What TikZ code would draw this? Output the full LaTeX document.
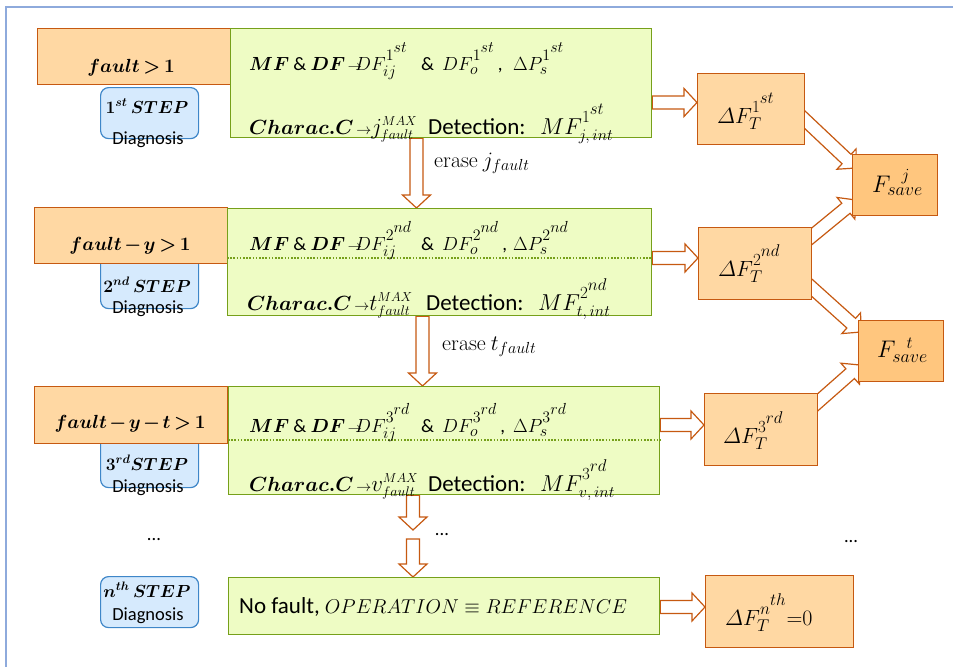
\documentclass[tikz,border=0pt]{standalone}
\usepackage{fix-cm}
\usepackage{amsmath}
\usepackage[no-math]{fontspec}
\setmainfont{Carlito}
\usetikzlibrary{calc}
\pgfdeclarelayer{bg}
\pgfsetlayers{bg,main}
\definecolor{orf}{HTML}{FFD8A3}
\definecolor{ord}{HTML}{C65911}
\definecolor{orsave}{HTML}{FFC67E}
\definecolor{grf}{HTML}{EEFCC4}
\definecolor{grd}{HTML}{76A01A}
\definecolor{blf}{HTML}{D6EAFD}
\definecolor{bld}{HTML}{3E86C8}
\definecolor{framec}{HTML}{8EAADC}
\newcommand\szLineA{\fontsize{19}{23}\selectfont}
\newcommand\szLineB{\fontsize{23}{27}\selectfont}
\newcommand\szStep{\fontsize{17.5}{20}\selectfont}
\newcommand\szDiag{\fontsize{18.5}{22}\selectfont}
\newcommand\szFault{\fontsize{19}{22}\selectfont\medmuskip=2mu\thickmuskip=3mu}
\newcommand\szDF{\fontsize{22}{26}\selectfont}
\newcommand\szSave{\fontsize{24}{28}\selectfont}
\newcommand\szErase{\fontsize{22}{26}\selectfont}
\newcommand\fsz[2]{\text{\fontsize{#1}{#1}\selectfont$\textstyle #2$}}
\newcommand\osup[3]{\raisebox{3pt}{\fontsize{#1}{#1}\selectfont$#2^{\raisebox{2pt}{\fontsize{#1}{#1}\selectfont$#3$}}$}}
\newcommand\sarr[1]{\mathord{\kern2.5pt\fsz{#1}{\rightarrow}}}
\newcommand\blockarr[2]{%
  \draw[barr] let \p1=(#1), \p2=(#2),
    \n1={atan2(\y2-\y1,\x2-\x1)}, \n2={veclen(\x2-\x1,\y2-\y1)} in
    ($(\p1)+(\n1+90:6.5pt)$)
    -- ($(\p1)+(\n1:\n2-13pt)+(\n1+90:6.5pt)$)
    -- ($(\p1)+(\n1:\n2-13pt)+(\n1+90:14pt)$)
    -- (\p2)
    -- ($(\p1)+(\n1:\n2-13pt)+(\n1-90:14pt)$)
    -- ($(\p1)+(\n1:\n2-13pt)+(\n1-90:6.5pt)$)
    -- ($(\p1)+(\n1-90:6.5pt)$) -- cycle;}
\tikzset{
  obox/.style={draw=ord, fill=orf, line width=1.3pt, inner sep=0pt, anchor=north west},
  sbox/.style={obox, fill=orsave},
  gbox/.style={draw=grd, fill=grf, line width=1.3pt, inner sep=0pt, anchor=north west},
  bbox/.style={draw=bld, fill=blf, line width=1.2pt, rounded corners=8pt, inner sep=0pt, anchor=north west},
  txt/.style={inner sep=0pt, anchor=base west},
  ctxt/.style={inner sep=0pt, anchor=base},
  barr/.style={draw=ord, fill=white, line width=1.2pt, line join=miter},
  dotl/.style={draw=grd, line width=1.6pt, dash pattern=on 1.6pt off 1.6pt}
}
\begin{document}
\begin{tikzpicture}[x=1pt,y=-1pt]
\useasboundingbox (0,0) rectangle (953,667);
\draw[framec, line width=2pt] (953,7) -- (6,7) -- (6,667);

% step boxes (behind orange boxes)
\node[bbox, minimum width=98pt, minimum height=51pt] (B1) at (100,87) {};
\node[bbox, minimum width=98pt, minimum height=58pt] (B2) at (100,250) {};
\node[bbox, minimum width=98pt, minimum height=58pt] (B3) at (100,429) {};
\node[bbox, minimum width=98pt, minimum height=51pt] (B4) at (100,576) {};

% condition boxes
\node[obox, minimum width=194pt, minimum height=56pt] (A1) at (37,28) {};
\node[obox, minimum width=193pt, minimum height=56pt] (A2) at (34,207) {};
\node[obox, minimum width=193pt, minimum height=57pt] (A3) at (34,386) {};

% green boxes
\node[gbox, minimum width=421pt, minimum height=109pt] (G1) at (230,28) {};
\node[gbox, minimum width=424pt, minimum height=107pt] (G2) at (227,208) {};
\node[gbox, minimum width=431pt, minimum height=108pt] (G3) at (228,386) {};
\node[gbox, minimum width=431pt, minimum height=57pt] (G4) at (228,577) {};
\draw[dotl] ($(G2.north west)+(0,50)$) -- ($(G2.north east)+(0,50)$);
\draw[dotl] ($(G3.north west)+(0,54)$) -- ($(G3.north east)+(0,54)$);

% result boxes
\node[obox, minimum width=107pt, minimum height=71pt] (dF1) at (697,73) {};
\node[obox, minimum width=113pt, minimum height=72pt] (dF2) at (698,227) {};
\node[obox, minimum width=113pt, minimum height=72pt] (dF3) at (704,393) {};
\node[obox, minimum width=148pt, minimum height=72pt] (dF4) at (705,575) {};
\node[sbox, minimum width=85pt, minimum height=61pt] (Fj) at (852,154) {};
\node[sbox, minimum width=85pt, minimum height=61pt] (Ft) at (858,320) {};

% texts: conditions
\node[ctxt] (tA1) at (131,72) {\szFault $\boldsymbol{fault>1}$};
\node[ctxt] (tA2) at (130,250) {\szFault $\boldsymbol{fault-y>1}$};
\node[ctxt] (tA3) at (130,428) {\szFault $\boldsymbol{fault-y-t>1}$};

% texts: steps
\node[ctxt] (tB1) at (147,113) {\szStep $\boldsymbol{1^{st}\,STEP}$};
\node[ctxt] (dB1) at (148,144) {\szDiag Diagnosis};
\node[ctxt] (tB2) at (147,292) {\szStep $\boldsymbol{2^{nd}\,STEP}$};
\node[ctxt] (dB2) at (148,313) {\szDiag Diagnosis};
\node[ctxt] (tB3) at (147,470) {\szStep $\boldsymbol{3^{rd}STEP}$};
\node[ctxt] (dB3) at (148,492) {\szDiag Diagnosis};
\node[ctxt] (tB4) at (147,597) {\szStep $\boldsymbol{n^{th}\,STEP}$};
\node[ctxt] (dB4) at (148,620) {\szDiag Diagnosis};

% texts: green boxes
\node[txt] (g1a) at (249,70) {\szLineA\makebox[106pt][l]{$\boldsymbol{MF}$ \& $\boldsymbol{DF}\sarr{14}$}\makebox[66pt][l]{$DF^{\osup{16}{1}{st}}_{\fsz{16}{ij}}$}\makebox[21pt][l]{\&}\makebox[71pt][l]{$DF^{\osup{16}{1}{st}}_{\fsz{16}{o}}$\,,}$\Delta P^{\osup{16}{1}{st}}_{\fsz{16}{s}}$};
\node[txt] (g1b) at (249,134) {\szLineB\makebox[179pt][l]{$\fsz{20.5}{\boldsymbol{Charac.C}}\sarr{15}j^{\fsz{13}{MAX}}_{\fsz{14}{fault}}$}\makebox[112pt][l]{Detection:}$MF^{\osup{17}{1}{st}}_{\fsz{16}{j,int}}$};
\node[txt] (g2a) at (249,250) {\szLineA\makebox[106pt][l]{$\boldsymbol{MF}$ \& $\boldsymbol{DF}\sarr{14}$}\makebox[66pt][l]{$DF^{\osup{16}{2}{nd}}_{\fsz{16}{ij}}$}\makebox[21pt][l]{\&}\makebox[71pt][l]{$DF^{\osup{16}{2}{nd}}_{\fsz{16}{o}}$\,,}$\Delta P^{\osup{16}{2}{nd}}_{\fsz{16}{s}}$};
\node[txt] (g2b) at (247,310) {\szLineB\makebox[179pt][l]{$\fsz{20.5}{\boldsymbol{Charac.C}}\sarr{15}t^{\fsz{13}{MAX}}_{\fsz{14}{fault}}$}\makebox[112pt][l]{Detection:}$MF^{\osup{17}{2}{nd}}_{\fsz{16}{t,int}}$};
\node[txt] (g3a) at (249,432) {\szLineA\makebox[106pt][l]{$\boldsymbol{MF}$ \& $\boldsymbol{DF}\sarr{14}$}\makebox[66pt][l]{$DF^{\osup{16}{3}{rd}}_{\fsz{16}{ij}}$}\makebox[21pt][l]{\&}\makebox[71pt][l]{$DF^{\osup{16}{3}{rd}}_{\fsz{16}{o}}$\,,}$\Delta P^{\osup{16}{3}{rd}}_{\fsz{16}{s}}$};
\node[txt] (g3b) at (249,491) {\szLineB\makebox[179pt][l]{$\fsz{20.5}{\boldsymbol{Charac.C}}\sarr{15}v^{\fsz{13}{MAX}}_{\fsz{14}{fault}}$}\makebox[112pt][l]{Detection:}$MF^{\osup{17}{3}{rd}}_{\fsz{16}{v,int}}$};
\node[txt] (g4) at (239,613) {\szLineB No fault, $\fsz{20}{OPERATION\equiv REFERENCE}$};

% texts: results
\node[txt] (tdF1) at (717,123) {\szDF $\varDelta F^{\osup{17}{1}{st}}_{\fsz{17}{T}}$};
\node[txt] (tdF2) at (718,276) {\szDF $\varDelta F^{\osup{17}{2}{nd}}_{\fsz{17}{T}}$};
\node[txt] (tdF3) at (723,443) {\szDF $\varDelta F^{\osup{17}{3}{rd}}_{\fsz{17}{T}}$};
\node[txt] (tdF4) at (725,625) {\szDF $\varDelta F^{\osup{17}{n}{th}}_{\fsz{17}{T}}{=}0$};
\node[txt] (tFj) at (872,192) {\szSave $F^{\kern11pt\fsz{17}{j}}_{\fsz{18}{save}}$};
\node[txt] (tFt) at (877,357) {\szSave $F^{\kern11pt\fsz{17}{t}}_{\fsz{18}{save}}$};

% erase labels and dots
\node[txt] (e1) at (434,167) {\szErase $\mathrm{erase}\ j_{\fsz{16}{fault}}$};
\node[txt] (e2) at (442,350) {\szErase $\mathrm{erase}\ t_{\fsz{16}{fault}}$};
\node[inner sep=0pt] (dotsL) at (154,540) {\szDiag ...};
\node[inner sep=0pt] (dotsM) at (442,535) {\szDiag ...};
\node[inner sep=0pt] (dotsR) at (851,542) {\szDiag ...};
\coordinate (c1) at (413,530);
\coordinate (c2) at (413,539);

\begin{pgfonlayer}{bg}
\blockarr{$(G1.north east)+(0,74.5)$}{$(dF1.north west)+(0,29.5)$}
\blockarr{$(G2.north east)+(0,50)$}{$(dF2.north west)+(0,31)$}
\blockarr{$(G3.north east)+(0,39)$}{$(dF3.north west)+(0,32)$}
\blockarr{$(G4.north east)+(0,30)$}{$(dF4.north west)+(0,32)$}
\blockarr{$(G1.south west)+(186.5,0)$}{$(G2.north west)+(189.5,0)$}
\blockarr{$(G2.south west)+(195.5,0)$}{$(G3.north west)+(194.5,0)$}
\blockarr{$(G3.south west)+(185,0)$}{c1}
\blockarr{c2}{$(G4.north west)+(185,0)$}
\blockarr{$(dF1.north east)+(-7.4,40.2)$}{$(Fj.north west)+(4,14)$}
\blockarr{$(dF2.north east)+(-7.8,15.3)$}{$(Fj.north west)+(4,46)$}
\blockarr{$(dF2.north east)+(-7.5,54.4)$}{$(Ft.north west)+(3,12)$}
\blockarr{$(dF3.north east)+(-7.6,15.5)$}{$(Ft.north west)+(2,45)$}
\end{pgfonlayer}
\end{tikzpicture}
\end{document}
